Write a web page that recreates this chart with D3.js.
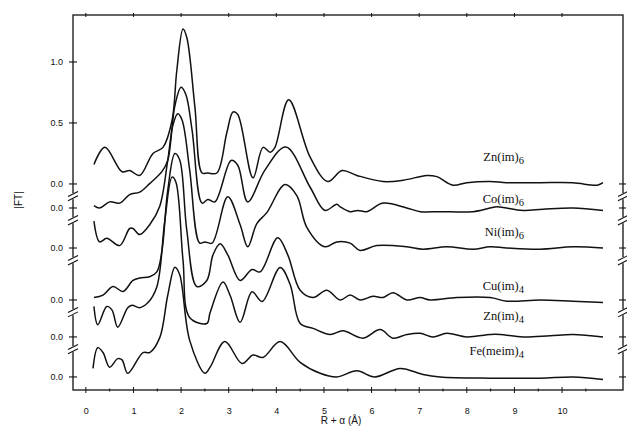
<!DOCTYPE html>
<html>
<head>
<meta charset="utf-8">
<script src="https://cdn.jsdelivr.net/npm/d3@7"></script>
<style>
  body { margin: 0; background: #fff; }
  svg { display: block; }
</style>
</head>
<body>
<div id="chart"></div>
<script>
// R + alpha values (A) and |FT| values
var rZn6 = [0.17,0.40,0.76,0.92,1.13,1.41,1.62,1.81,1.91,2.04,2.12,2.29,2.44,2.56,2.75,2.96,3.09,3.19,3.51,3.72,3.87,3.97,4.26,4.71,5.08,5.38,5.69,6.24,6.66,7.16,7.37,7.71,8.00,8.49,8.84,9.54,10.23,10.74,10.86];
var ftZn6 = [0.16,0.30,0.10,0.11,0.07,0.25,0.30,0.52,0.93,1.27,1.20,0.63,0.09,0.09,0.09,0.42,0.59,0.57,0.05,0.30,0.26,0.30,0.69,0.22,0.02,0.11,0.07,0.02,0.03,0.07,0.06,-0.01,0.01,0.02,0.01,0.01,0.01,-0.01,0.01];

var rCo6 = [0.17,0.29,0.50,0.71,0.92,1.13,1.34,1.60,1.72,1.87,2.00,2.10,2.23,2.44,2.56,2.71,3.05,3.19,3.40,3.76,4.20,4.71,5.02,5.27,5.34,5.55,5.71,5.90,6.24,6.74,7.02,7.44,8.13,8.49,8.63,9.18,9.60,10.23,10.86];
var ftCo6 = [0.02,0.00,0.05,0.04,0.11,0.13,0.20,0.30,0.39,0.84,0.99,0.93,0.64,0.04,0.07,0.05,0.39,0.35,0.05,0.31,0.50,0.17,-0.02,0.03,0.01,-0.03,-0.02,-0.03,0.04,0.00,-0.03,-0.03,-0.03,0.00,0.01,-0.02,-0.01,0.00,-0.02];

var rNi6 = [0.17,0.29,0.44,0.71,0.92,0.99,1.13,1.34,1.55,1.72,1.83,1.93,2.02,2.18,2.39,2.50,2.65,2.98,3.24,3.40,3.59,3.80,4.18,4.43,4.64,5.02,5.27,5.55,5.76,6.11,6.74,7.08,7.58,8.13,8.49,8.84,9.54,10.23,10.86];
var ftNi6 = [0.22,0.05,0.08,0.02,0.16,0.16,0.11,0.19,0.34,0.72,1.01,1.10,1.05,0.64,0.04,0.05,0.04,0.42,0.19,0.01,0.20,0.29,0.52,0.43,0.17,0.01,0.05,0.04,-0.02,0.02,0.01,-0.01,0.01,-0.01,0.01,0.00,-0.01,0.01,0.00];

var rCu4 = [0.17,0.36,0.57,0.78,0.99,1.13,1.34,1.49,1.60,1.72,1.87,1.97,2.12,2.33,2.54,2.67,2.82,2.98,3.24,3.49,3.66,4.03,4.24,4.50,4.77,5.06,5.34,5.55,5.76,6.03,6.24,6.45,6.74,7.02,7.23,7.79,8.49,8.84,9.54,10.23,10.86];
var ftCu4 = [0.02,0.04,0.11,0.07,0.16,0.18,0.19,0.23,0.41,0.90,1.20,1.15,0.57,0.11,0.16,0.37,0.46,0.37,0.16,0.25,0.23,0.51,0.37,0.08,0.02,0.08,0.00,0.04,0.00,0.03,0.02,0.06,0.00,0.02,0.00,0.02,0.02,-0.01,0.00,-0.01,-0.02];

var rZn4 = [0.17,0.25,0.44,0.55,0.67,0.88,0.97,1.13,1.30,1.49,1.66,1.81,1.89,2.04,2.18,2.54,2.61,2.88,3.03,3.24,3.49,3.70,4.08,4.29,4.50,4.77,5.13,5.40,5.82,6.18,6.45,6.74,7.02,7.29,7.58,8.00,8.49,8.70,9.18,9.75,10.23,10.86];
var ftZn4 = [0.25,0.10,0.25,0.22,0.08,0.24,0.26,0.24,0.28,0.41,0.96,1.31,1.27,0.63,0.16,0.11,0.20,0.45,0.34,0.12,0.37,0.29,0.57,0.43,0.11,0.07,0.02,0.05,-0.01,0.06,-0.01,0.02,0.03,0.00,0.03,0.00,0.02,0.02,0.00,0.01,0.02,0.00];

var rFe4 = [0.15,0.25,0.36,0.50,0.67,0.76,0.88,1.20,1.34,1.55,1.72,1.87,1.97,2.18,2.50,2.61,2.92,3.28,3.51,3.72,4.08,4.50,4.92,5.27,5.69,6.07,6.60,7.08,7.44,8.49,9.54,10.23,10.86];
var ftFe4 = [0.07,0.24,0.20,0.08,0.15,0.14,0.03,0.20,0.20,0.32,0.67,0.90,0.84,0.30,0.03,0.08,0.29,0.11,0.18,0.16,0.29,0.12,0.03,0.00,0.05,0.00,0.07,0.02,0.00,-0.01,-0.01,0.00,-0.02];

var names = ["Zn(im)", "Co(im)", "Ni(im)", "Cu(im)", "Zn(im)", "Fe(meim)"];
var subs = ["6", "6", "6", "4", "4", "4"];
var xTicks = [0,1,2,3,4,5,6,7,8,9,10];
var yTicksTop = [1.0, 0.5];

var w = 627, h = 429;
// vertical shift of each trace (|FT| units)
var offsets = [0, -0.197, -0.525, -0.951, -1.254, -1.582];
var series = [[rZn6, ftZn6], [rCo6, ftCo6], [rNi6, ftNi6], [rCu4, ftCu4], [rZn4, ftZn4], [rFe4, ftFe4]];

var svg = d3.select("#chart").append("svg")
  .attr("width", w)
  .attr("height", h);

var x = d3.scaleLinear().domain([-0.27, 11.28]).range([73, 623]);
var y = d3.scaleLinear().domain([-1.689, 1.385]).range([390, 15]);

var ink = "#111";

// frame
svg.append("rect")
  .attr("x", x(-0.27)).attr("y", y(1.385))
  .attr("width", x(11.28) - x(-0.27)).attr("height", y(-1.689) - y(1.385))
  .attr("fill", "none").attr("stroke", ink).attr("stroke-width", 1.3);

// bottom axis
var xAxis = d3.axisBottom(x).tickValues(xTicks).tickSize(0).tickPadding(18)
  .tickFormat(d3.format("d"));
svg.append("g")
  .attr("transform", "translate(0," + y(-1.689) + ")")
  .call(xAxis)
  .call(g => g.select(".domain").remove())
  .call(g => g.selectAll("text").attr("font-family", "Liberation Sans, Arial, sans-serif")
    .attr("font-size", 9).attr("fill", ink));

// crossing ticks on bottom and top
var minor = d3.range(0, 11, 0.5);
svg.append("g").selectAll("line")
  .data(minor)
  .enter().append("line")
  .attr("x1", d => x(d)).attr("x2", d => x(d))
  .attr("y1", d => y(-1.689) - (d % 1 === 0 ? 3 : 1.5))
  .attr("y2", d => y(-1.689) + (d % 1 === 0 ? 3 : 1.5))
  .attr("stroke", ink).attr("stroke-width", 1);
svg.append("g").selectAll("line")
  .data(xTicks)
  .enter().append("line")
  .attr("x1", d => x(d)).attr("x2", d => x(d))
  .attr("y1", y(1.385) - 2).attr("y2", y(1.385) + 2)
  .attr("stroke", ink).attr("stroke-width", 1);

// left ticks: 1.0, 0.5 on top trace, then the zero of every trace
var leftTicks = yTicksTop.map(v => ({v: v, label: d3.format(".1f")(v)}))
  .concat(offsets.map(o => ({v: o, label: "0.0"})));
var lt = svg.append("g");
lt.selectAll("line")
  .data(leftTicks)
  .enter().append("line")
  .attr("x1", x(-0.27) - 4).attr("x2", x(-0.27) + 4)
  .attr("y1", d => y(d.v)).attr("y2", d => y(d.v))
  .attr("stroke", ink).attr("stroke-width", 1.1);
lt.selectAll("text")
  .data(leftTicks)
  .enter().append("text")
  .attr("x", x(-0.27) - 10)
  .attr("y", d => y(d.v) + 3)
  .attr("text-anchor", "end")
  .attr("font-family", "Liberation Sans, Arial, sans-serif")
  .attr("font-size", 9)
  .attr("fill", ink)
  .text(d => d.label);

// right ticks at each zero
svg.append("g").selectAll("line")
  .data(offsets)
  .enter().append("line")
  .attr("x1", x(11.28) - 4).attr("x2", x(11.28) + 3)
  .attr("y1", d => y(d)).attr("y2", d => y(d))
  .attr("stroke", ink).attr("stroke-width", 1.1);

// axis breaks (//) below each zero except the last
var breaks = offsets.slice(0, -1).map(o => o - 0.1);
[x(-0.27), x(11.28)].forEach(function(ax) {
  var b = svg.append("g");
  b.selectAll("rect")
    .data(breaks)
    .enter().append("rect")
    .attr("x", ax - 2).attr("y", d => y(d) - 3)
    .attr("width", 4).attr("height", 6)
    .attr("fill", "#fff");
  [-2.2, 2.2].forEach(function(dy) {
    b.append("g").selectAll("line")
      .data(breaks)
      .enter().append("line")
      .attr("x1", ax - 5).attr("x2", ax + 5)
      .attr("y1", d => y(d) + dy + 2.5).attr("y2", d => y(d) + dy - 2.5)
      .attr("stroke", ink).attr("stroke-width", 1.1);
  });
});

// traces
var line = d3.line()
  .x(d => x(d[0]))
  .y(d => y(d[1]))
  .curve(d3.curveCatmullRom.alpha(0.5));

svg.append("g").selectAll("path")
  .data(series.map((s, i) => s[0].map((r, j) => [r, s[1][j] + offsets[i]])))
  .enter().append("path")
  .attr("d", line)
  .attr("fill", "none")
  .attr("stroke", ink)
  .attr("stroke-width", 1.5)
  .attr("stroke-linejoin", "round");

// trace labels
var labelY = [161, 203, 236, 290, 320, 355];
var lab = svg.append("g").selectAll("text")
  .data(names)
  .enter().append("text")
  .attr("x", 524)
  .attr("y", (d, i) => labelY[i])
  .attr("text-anchor", "end")
  .attr("font-family", "Liberation Serif, Times New Roman, serif")
  .attr("font-size", 12.5)
  .attr("fill", ink);
lab.append("tspan").text(d => d);
lab.append("tspan")
  .attr("dy", 3)
  .attr("font-size", 10.5)
  .text((d, i) => subs[i]);

// axis titles
svg.append("text")
  .attr("transform", "translate(22," + 200 + ") rotate(-90)")
  .attr("text-anchor", "middle")
  .attr("font-family", "Liberation Sans, Arial, sans-serif")
  .attr("font-size", 10)
  .attr("fill", ink)
  .text("|FT|");

svg.append("text")
  .attr("x", 341)
  .attr("y", 424)
  .attr("text-anchor", "middle")
  .attr("font-family", "Liberation Sans, Arial, sans-serif")
  .attr("font-size", 10)
  .attr("fill", ink)
  .text("R + α (Å)");
</script>
</body>
</html>
